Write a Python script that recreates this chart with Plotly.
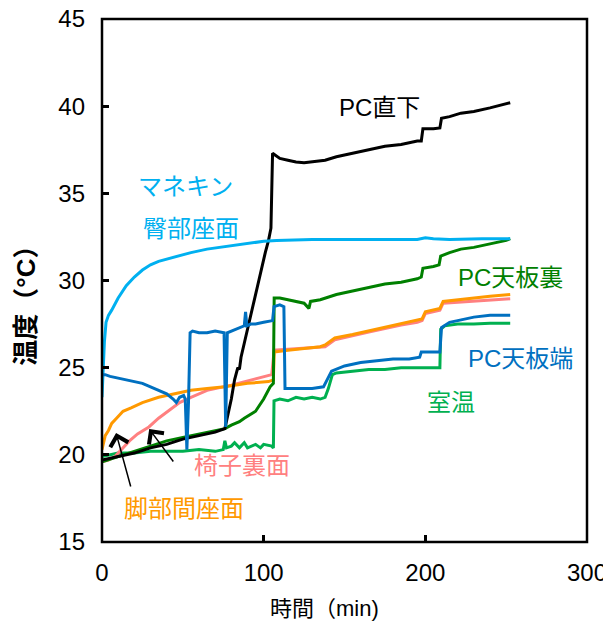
import plotly.graph_objects as go

# ---- data (minutes, °C) ----
t_black = [0, 10, 20, 30, 40, 50, 60, 70, 76, 78, 80, 82, 84, 85, 86, 88, 90, 92.7, 95, 97, 99, 101, 103, 104.5,
           105.5, 107, 110, 115, 120, 125, 130, 138, 145, 155, 165, 175, 185, 195, 197.5, 198.5, 205, 209, 210,
           215, 222, 230, 240, 248, 252.5]
v_black = [19.7, 19.9, 20.1, 20.4, 20.6, 20.9, 21.1, 21.3, 21.5, 22.3, 23.2, 24.3, 25.0, 24.9, 25.6, 26.4, 27.2,
           28.3, 29.3, 30.1, 30.9, 31.6, 32.3, 33.0, 37.3, 37.2, 37.0, 36.9, 36.8, 36.75, 36.8, 36.9, 37.1,
           37.3, 37.5, 37.7, 37.8, 38.0, 38.0, 38.7, 38.7, 38.75, 39.3, 39.4, 39.6, 39.7, 39.9, 40.1, 40.2]

t_lblue = [0, 0.5, 1.5, 2.5, 4, 6, 10, 15, 20, 25, 30, 35, 45, 55, 65, 76, 90, 100, 108, 130, 150, 175, 195,
           200, 205, 215, 235, 252.5]
v_lblue = [23.3, 24.5, 26.5, 27.6, 28.0, 28.3, 29.0, 29.7, 30.2, 30.6, 30.9, 31.1, 31.35, 31.6, 31.8, 31.95,
           32.15, 32.25, 32.3, 32.35, 32.35, 32.35, 32.35, 32.45, 32.4, 32.35, 32.4, 32.4]

t_dblue = [0, 2, 5, 10, 15, 20, 25, 30, 35, 40, 44, 46, 48, 50.5, 51.5, 52.5, 53.5, 54.5, 56, 60, 65, 70,
           75.5, 76.5, 77.5, 80, 85, 88, 88.8, 89.6, 92, 95, 100, 105.5, 106.4, 110, 112.5, 113.2, 120, 130,
           137, 139, 142, 150, 160, 170, 180, 190, 196.5, 197.5, 205, 209, 210, 215, 220, 230, 240, 252.5]
v_dblue = [24.6, 24.6, 24.5, 24.4, 24.3, 24.2, 24.1, 23.9, 23.7, 23.5, 23.2, 23.0, 23.3, 23.4, 23.2, 20.3, 23.0,
           27.0, 27.1, 27.0, 27.0, 27.1, 27.0, 21.6, 27.0, 27.1, 27.3, 27.4, 28.2, 27.4, 27.5, 27.5, 27.6,
           27.7, 28.5, 28.6, 28.5, 23.8, 23.8, 23.8, 23.9, 24.3, 24.8, 25.1, 25.3, 25.4, 25.5, 25.5, 25.6,
           25.9, 25.9, 25.9, 27.3, 27.6, 27.7, 27.9, 28.0, 28.0]

t_dgreen = [0, 10, 20, 30, 40, 50, 60, 70, 76, 80, 85, 88, 95, 100, 104, 106, 106.5, 110, 115, 120, 125, 128,
            129, 135, 145, 155, 165, 175, 185, 195, 197.5, 198.5, 205, 208.5, 209.5, 215, 222, 230, 240, 250,
            252.5]
v_dgreen = [19.6, 19.9, 20.2, 20.5, 20.8, 21.0, 21.2, 21.4, 21.5, 21.7, 21.9, 22.1, 22.5, 23.2, 23.9, 24.1,
            29.0, 29.0, 28.9, 28.8, 28.7, 28.4, 28.8, 28.9, 29.2, 29.4, 29.6, 29.8, 29.9, 30.1, 30.2, 30.7,
            30.8, 30.9, 31.4, 31.6, 31.8, 31.9, 32.1, 32.3, 32.4]

t_room = [0, 5, 10, 20, 30, 40, 50, 60, 70, 75, 76, 77, 80, 82, 85, 88, 90, 95, 98, 100, 105, 106, 106.4, 110,
          115, 120, 125, 130, 135, 138, 140, 142.5, 145, 155, 165, 175, 185, 195, 205, 209, 209.5, 212, 220,
          230, 240, 252.5]
v_room = [19.9, 20.0, 20.1, 20.1, 20.2, 20.2, 20.2, 20.3, 20.2, 20.3, 20.8, 20.4, 20.5, 20.7, 20.4, 20.7, 20.4,
          20.6, 20.4, 20.6, 20.5, 20.4, 23.1, 23.2, 23.1, 23.3, 23.2, 23.3, 23.2, 23.3, 23.8, 24.6, 24.7, 24.8,
          24.9, 24.9, 25.0, 25.0, 25.0, 25.0, 27.2, 27.4, 27.5, 27.5, 27.55, 27.55]

t_orange = [0, 1, 2, 4, 6, 9, 13, 18, 25, 35, 45, 55, 65, 76, 90, 103, 106, 106.5, 115, 125, 135, 138, 144,
            155, 165, 175, 185, 195, 198, 200, 205, 209, 211, 220, 230, 240, 252.5]
v_orange = [20.3, 20.8, 21.1, 21.4, 21.8, 22.1, 22.5, 22.7, 23.0, 23.3, 23.5, 23.7, 23.8, 23.9, 24.1, 24.2,
            24.3, 25.9, 26.0, 26.1, 26.2, 26.3, 26.7, 26.9, 27.1, 27.3, 27.5, 27.7, 27.8, 28.2, 28.3, 28.4,
            28.8, 28.9, 29.0, 29.1, 29.2]

t_pink = [0, 4, 8, 12, 17, 22, 29, 35, 42, 48, 55, 65, 80, 95, 105, 106.5, 115, 125, 135, 138, 144, 155, 165,
          175, 185, 195, 198, 200, 205, 209, 211, 220, 230, 240, 252.5]
v_pink = [19.6, 19.7, 19.9, 20.3, 20.8, 21.2, 21.6, 22.1, 22.6, 23.0, 23.3, 23.7, 24.0, 24.35, 24.6, 26.0,
          26.05, 26.1, 26.2, 26.2, 26.6, 26.85, 27.05, 27.25, 27.45, 27.6, 27.7, 28.1, 28.2, 28.3, 28.7, 28.75,
          28.8, 28.85, 28.95]

x_ticks = [0, 100, 200, 300]
y_ticks = [15, 20, 25, 30, 35, 40, 45]

series = [
    (t_room, v_room, "#00B050", "室温"),
    (t_pink, v_pink, "#FF8080", "椅子裏面"),
    (t_orange, v_orange, "#FF9900", "脚部間座面"),
    (t_dgreen, v_dgreen, "#008000", "PC天板裏"),
    (t_black, v_black, "#000000", "PC直下"),
    (t_lblue, v_lblue, "#00B0F0", "マネキン臀部座面"),
    (t_dblue, v_dblue, "#0070C0", "PC天板端"),
]

fig = go.Figure()
for tx, vy, col, name in series:
    fig.add_trace(go.Scatter(x=tx, y=vy, mode="lines", name=name,
                             line=dict(color=col, width=3), showlegend=False))

FONT = "Liberation Sans, Arial, Noto Sans CJK JP"
labels = [
    ("PC直下", 171.7, 39.93, "#000000"),
    ("マネキン", 51.9, 35.37, "#00B0F0"),
    ("臀部座面", 54.8, 33.0, "#00B0F0"),
    ("PC天板裏", 252.6, 30.2, "#008000"),
    ("PC天板端", 258.9, 25.5, "#0070C0"),
    ("室温", 216.0, 23.0, "#00B050"),
    ("椅子裏面", 86.5, 19.4, "#FF8080"),
    ("脚部間座面", 51.0, 16.9, "#FF9900"),
]
for txt, lx, ly, col in labels:
    fig.add_annotation(x=lx, y=ly, text=txt, showarrow=False,
                       font=dict(family=FONT, size=24, color=col),
                       xanchor="center", yanchor="middle")

arrows = [(8.7, 21.25, 18.0, 18.1), (29.2, 21.48, 44.8, 19.53)]
for hx, hy, tx0, ty0 in arrows:
    fig.add_annotation(x=hx, y=hy, ax=tx0, ay=ty0, axref="x", ayref="y", xref="x", yref="y",
                       text="", showarrow=True, arrowhead=4, arrowsize=2.4, arrowwidth=1.5,
                       arrowcolor="#000000")

# axis titles
fig.add_annotation(xref="paper", yref="paper", x=0.4585, y=-0.127, text="時間（min)",
                   showarrow=False, font=dict(family=FONT, size=22, color="#000000"),
                   xanchor="center", yanchor="middle")
fig.add_annotation(xref="paper", yref="paper", x=-0.157, y=0.465, text="<b>温度（°C）</b>",
                   showarrow=False, textangle=-90, font=dict(family=FONT, size=26, color="#000000"),
                   xanchor="center", yanchor="middle")

# plot frame
fig.add_shape(type="rect", xref="paper", yref="paper", x0=0, y0=0, x1=1, y1=1,
              line=dict(color="#000000", width=2.5), fillcolor="rgba(0,0,0,0)", layer="above")

fig.update_xaxes(range=[0, 300], tickvals=x_ticks, ticktext=[str(v) for v in x_ticks],
                 showline=False, ticks="inside", ticklen=7, tickwidth=2.5, tickcolor="#000000",
                 showgrid=False, zeroline=False, ticklabelstandoff=14, automargin=False,
                 ticklabeloverflow="allow",
                 tickfont=dict(family=FONT, size=24, color="#000000"))
fig.update_yaxes(range=[15, 45], tickvals=y_ticks, ticktext=[str(v) for v in y_ticks],
                 showline=False, ticks="inside", ticklen=7, tickwidth=2.5, tickcolor="#000000",
                 showgrid=False, zeroline=False, ticklabelstandoff=16, automargin=False,
                 ticklabeloverflow="allow",
                 tickfont=dict(family=FONT, size=24, color="#000000"))

fig.update_layout(width=611, height=624, margin=dict(l=94, r=32, t=11, b=90),
                  plot_bgcolor="white", paper_bgcolor="white", showlegend=False)

fig.write_html("out.html")
